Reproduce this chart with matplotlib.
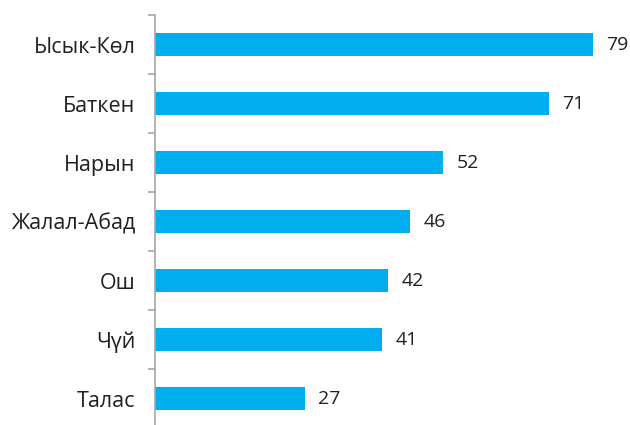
import matplotlib
matplotlib.use('Agg')
import matplotlib.pyplot as plt
import numpy as np

regions = ['Ысык-Көл', 'Баткен', 'Нарын', 'Жалал-Абад', 'Ош', 'Чүй', 'Талас']
values = [79, 71, 52, 46, 42, 41, 27]

plt.rcParams['font.family'] = ['Open Sans', 'DejaVu Sans']

fig = plt.figure(figsize=(6.3, 4.25), dpi=100)
ax = fig.add_axes([155 / 630, -3 / 425, 475 / 630, 413 / 425])

y = np.arange(len(regions))
ax.barh(y, values, height=0.4, color='#00AEEF')

for yi, v in zip(y, values):
    ax.text(v + 2.4, yi, str(v), va='center', ha='left', fontsize=14, color='#231F20')

ax.set_ylim(len(regions) - 0.5, -0.5)
ax.set_xlim(0, 475 / 5.544)

# tick marks between categories, labels centered on bars
ax.set_yticks(np.arange(-0.5, len(regions), 1.0))
ax.set_yticklabels([])
ax.set_yticks(y, minor=True)
ax.set_yticklabels(regions, minor=True, fontsize=15.5, color='#231F20')
ax.tick_params(axis='y', which='major', length=5, width=1.2, color='#A6A6A6')
ax.tick_params(axis='y', which='minor', length=0, pad=14)

ax.set_xticks([])
for s in ['top', 'right', 'bottom']:
    ax.spines[s].set_visible(False)
ax.spines['left'].set_color('#A6A6A6')
ax.spines['left'].set_linewidth(1.2)

fig.savefig('out.png', dpi=100)
